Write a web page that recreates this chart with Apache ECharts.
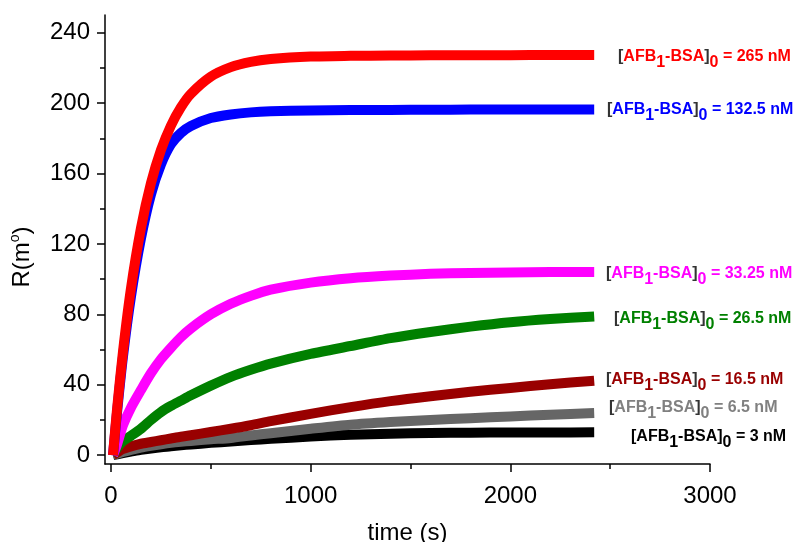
<!DOCTYPE html>
<html>
<head>
<meta charset="utf-8">
<script src="https://cdn.jsdelivr.net/npm/echarts@6/dist/echarts.min.js"></script>
<style>
    html, body { margin: 0; padding: 0; background: #fff; }
    #chart { width: 799px; height: 542px; }
</style>
</head>
<body>
<div id="chart"></div>
<script>
// Data (time in s, R in m°)
const TIME = [10, 30, 60, 100, 150, 200, 250, 300, 350, 400, 500, 600, 700, 800, 1000, 1200, 1400, 1600, 1800, 2000, 2200, 2420];

const R_265   = [0, 25.7, 58.8, 94.7, 128.9, 154.4, 173.2, 187.1, 197.5, 205.2, 215.0, 220.4, 223.4, 225.0, 226.4, 226.8, 227.0, 227.1, 227.2, 227.2, 227.3, 227.3];
const R_132_5 = [0, 24, 56, 90, 123, 148, 165, 176.5, 183, 187, 191.5, 193.5, 194.7, 195.3, 195.8, 196, 196.1, 196.2, 196.3, 196.3, 196.4, 196.4];
const R_33_25 = [0, 6, 17, 27, 37, 46.5, 54.5, 61, 67, 72, 80, 86, 90.5, 94, 98, 100.5, 102, 103, 103.5, 103.8, 104, 104];
const R_26_5  = [0, 4, 8, 11, 15, 20, 24.5, 28, 31, 34, 39.5, 44.5, 48.5, 52, 57.5, 62, 66.5, 70, 73, 75.5, 77.3, 78.8];
const R_16_5  = [0, 1.5, 3.5, 5, 6.5, 7.5, 8.5, 9.5, 10.5, 11.3, 13.2, 15, 17, 19.3, 23.5, 27.3, 30.7, 33.5, 36, 38.2, 40.3, 42.3];
const R_6_5   = [0, 0.8, 1.8, 3, 4.3, 5.3, 6.2, 7, 7.6, 8.1, 9, 9.8, 11.2, 12.5, 15, 17.3, 18.8, 20, 21, 22, 23, 23.9];
const R_3     = [0, 0.5, 1.2, 2, 3, 3.8, 4.5, 5, 5.6, 6.1, 7, 7.8, 8.6, 9.3, 10.6, 11.6, 12.2, 12.6, 12.8, 12.9, 12.9, 13];

const CONC = ['265', '132.5', '33.25', '26.5', '16.5', '6.5', '3'];

const X_TICKS = [0, 1000, 2000, 3000];
const X_MINOR = [500, 1500, 2500];
const Y_TICKS = [0, 40, 80, 120, 160, 200, 240];
const Y_MINOR = [20, 60, 100, 140, 180, 220];

// Styles
const FONT = 'Liberation Sans, Arial, sans-serif';
const LINE_COLORS = ['#ff0000', '#0000ff', '#ff00ff', '#008000', '#990000', '#666666', '#000000'];
const TEXT_COLORS = ['#ff0000', '#0000ff', '#ff00ff', '#008000', '#990000', '#808080', '#000000'];
const LABEL_POS = [[618, 57], [607, 110], [606, 274], [614, 319], [606, 380], [609, 408], [631, 437]];

const SERIES_VALUES = [R_265, R_132_5, R_33_25, R_26_5, R_16_5, R_6_5, R_3];

function buildSeries() {
    // draw lowest curves first so red ends up on top
    const order = [6, 5, 4, 3, 2, 1, 0];
    return order.map(i => ({
        type: 'line',
        data: TIME.map((t, k) => [t, SERIES_VALUES[i][k]]),
        showSymbol: false,
        smooth: 0.25,
        lineStyle: { color: LINE_COLORS[i], width: 10, join: 'round', cap: 'butt' },
        itemStyle: { color: LINE_COLORS[i] }
    }));
}

function buildLabels() {
    return CONC.map((c, i) => {
        const col = TEXT_COLORS[i];
        const base = { fontSize: 16, fontWeight: 'bold', fontFamily: FONT };
        return {
            type: 'text',
            x: LABEL_POS[i][0],
            y: LABEL_POS[i][1],
            style: {
                text: `{k|[}{c|AFB}{s|1}{c|-BSA}{k|]}{s|0}{c| = ${c} nM}`,
                verticalAlign: 'middle',
                rich: {
                    k: Object.assign({ fill: i === 6 ? '#000' : '#333' }, base),
                    c: Object.assign({ fill: col }, base),
                    s: Object.assign({ fill: col, padding: [12, 0, 0, 0] }, base)
                }
            }
        };
    });
}

function axisCommon(ticks, margin, extra) {
    return Object.assign({
        type: 'value',
        axisLine: { show: true, onZero: false, lineStyle: { color: '#000', width: 1.5 } },
        axisTick: { show: true, customValues: ticks, length: 8, lineStyle: { color: '#000', width: 1.5 } },
        axisLabel: {
            customValues: ticks, fontSize: 24, color: '#000', fontFamily: FONT, margin: margin,
            formatter: v => String(v)
        },
        splitLine: { show: false }
    }, extra);
}

function minorAxis(ticks, extra) {
    return Object.assign({
        type: 'value',
        axisLine: { show: false, onZero: false },
        axisTick: { show: true, customValues: ticks, length: 5, lineStyle: { color: '#000', width: 1.5 } },
        axisLabel: { show: false },
        splitLine: { show: false }
    }, extra);
}

const chart = echarts.init(document.getElementById('chart'), null, { renderer: 'canvas' });

const option = {
    animation: false,
    backgroundColor: '#fff',
    grid: { left: 105, right: 89, top: 15, bottom: 78, outerBoundsMode: 'none', containLabel: false },
    xAxis: [
        axisCommon(X_TICKS, 20, {
            min: -30, max: 3000, position: 'bottom',
            name: 'time (s)', nameLocation: 'middle', nameGap: 57,
            nameTextStyle: { fontSize: 24, color: '#000', fontFamily: FONT }
        }),
        minorAxis(X_MINOR, { min: -30, max: 3000, position: 'bottom' })
    ],
    yAxis: [
        axisCommon(Y_TICKS, 15, { min: -5, max: 250, position: 'left' }),
        minorAxis(Y_MINOR, { min: -5, max: 250, position: 'left' })
    ],
    series: buildSeries(),
    graphic: buildLabels().concat([{
        type: 'text',
        x: 22,
        y: 257,
        rotation: Math.PI / 2,
        style: {
            text: '{a|R(m}{o|o}{a|)}',
            align: 'center',
            verticalAlign: 'middle',
            rich: {
                a: { fontSize: 24, fill: '#000', fontFamily: FONT },
                o: { fontSize: 14, fill: '#000', fontFamily: FONT, padding: [0, 0, 14, 0] }
            }
        }
    }])
};

chart.setOption(option);
</script>
</body>
</html>
